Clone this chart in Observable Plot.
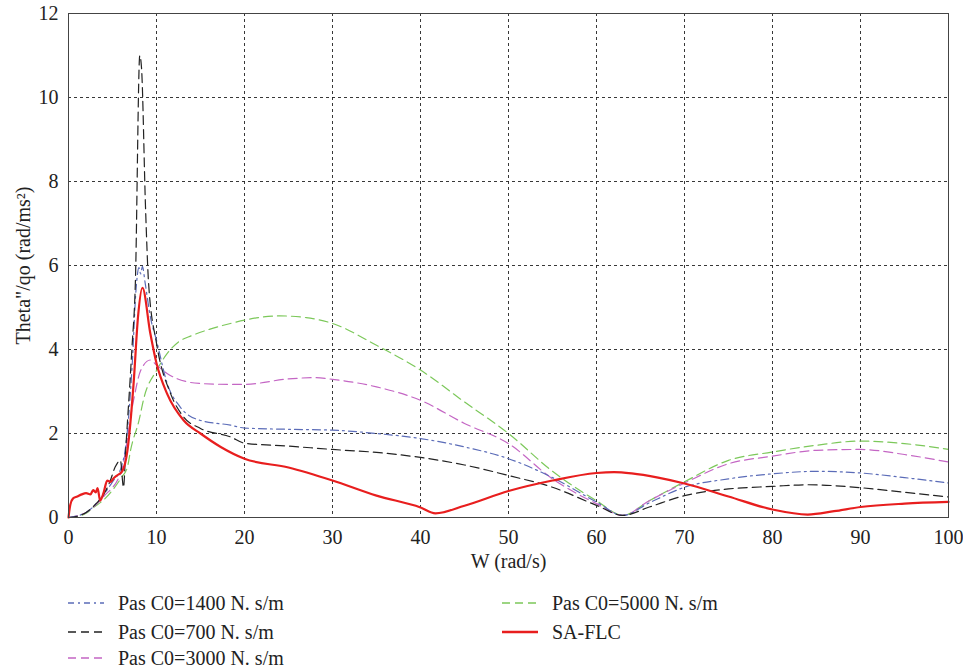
<!DOCTYPE html>
<html>
<head>
<meta charset="utf-8">
<script src="https://cdn.jsdelivr.net/npm/d3@7"></script>
<script src="https://cdn.jsdelivr.net/npm/@observablehq/plot@0.6"></script>
<style>
  html, body { margin: 0; padding: 0; background: #fff; }
  #wrap { position: relative; width: 963px; height: 669px; font-family: 'Liberation Serif', 'Times New Roman', 'DejaVu Serif', serif; }
  #wrap svg text { font-family: 'Liberation Serif', 'Times New Roman', 'DejaVu Serif', serif; }
  .leg { position: absolute; display: flex; align-items: center; font-size: 20px; color: #222; white-space: nowrap; }
  .leg svg { margin-right: 14px; }
</style>
</head>
<body>
<div id="wrap"></div>
<script>
// ---- data ----
const xTicks = [0, 10, 20, 30, 40, 50, 60, 70, 80, 90, 100];
const yTicks = [0, 2, 4, 6, 8, 10, 12];

const seriesNames = ["Pas C0=1400 N. s/m", "Pas C0=700 N. s/m", "Pas C0=3000 N. s/m", "Pas C0=5000 N. s/m", "SA-FLC"];

const pas1400W = [0, 2, 4, 5, 6, 6.5, 7.2, 7.7, 8.0, 8.2, 8.4, 8.7, 9.3, 10, 11.2, 12.7, 15, 18.4, 20, 25, 30, 35, 40, 45, 50, 55, 60, 63, 66, 70, 75, 80, 85, 90, 95, 100];
const pas1400Y = [0, 0.12, 0.55, 0.85, 1.2, 1.7, 3.5, 5.5, 5.95, 5.8, 5.98, 5.6, 4.78, 4.22, 3.2, 2.63, 2.31, 2.2, 2.13, 2.1, 2.08, 2.0, 1.88, 1.68, 1.4, 0.95, 0.37, 0.05, 0.35, 0.72, 0.92, 1.04, 1.1, 1.06, 0.95, 0.82];

const pas700W = [0, 1, 2, 3, 4, 4.7, 5.3, 5.9, 6.25, 6.5, 7.2, 7.6, 8.1, 8.3, 8.75, 9.1, 10, 11.6, 13.1, 15, 18.4, 20, 25, 30, 35, 40, 45, 50, 55, 60, 63, 66, 70, 75, 80, 84, 90, 95, 100];
const pas700Y = [0, 0.03, 0.12, 0.3, 0.55, 0.85, 1.2, 1.36, 0.72, 1.6, 4.0, 5.6, 11.0, 10.7, 7.4, 5.58, 4.15, 2.95, 2.39, 2.12, 1.92, 1.77, 1.7, 1.62, 1.55, 1.43, 1.25, 1.0, 0.72, 0.29, 0.05, 0.25, 0.52, 0.68, 0.74, 0.78, 0.71, 0.6, 0.49];

const pas3000W = [0, 2, 4, 6, 7.4, 8.2, 9.3, 10, 11.2, 13.5, 15, 18.4, 20, 25, 28, 30, 35, 40, 45, 50, 55, 60, 63, 66, 70, 75, 80, 85, 90, 95, 100];
const pas3000Y = [0, 0.12, 0.5, 1.1, 2.8, 3.5, 3.75, 3.63, 3.43, 3.23, 3.19, 3.17, 3.17, 3.3, 3.33, 3.29, 3.11, 2.79, 2.24, 1.76, 0.92, 0.33, 0.05, 0.4, 0.82, 1.28, 1.46, 1.6, 1.62, 1.5, 1.32];

const pas5000W = [0, 1, 2, 2.9, 4, 4.8, 6, 6.7, 7.05, 8, 8.6, 10, 11.2, 12.5, 14, 16, 18.4, 20, 24, 27, 30, 35, 40, 45, 50, 55, 60, 63, 66, 70, 75, 80, 85, 90, 95, 100];
const pas5000Y = [0, 0.02, 0.1, 0.25, 0.42, 0.6, 0.95, 1.2, 1.6, 2.3, 2.87, 3.5, 3.9, 4.18, 4.33, 4.48, 4.62, 4.7, 4.8, 4.76, 4.62, 4.1, 3.51, 2.75, 2.0, 1.1, 0.4, 0.05, 0.4, 0.85, 1.36, 1.56, 1.72, 1.82, 1.76, 1.62];

const saflcW = [0, 0.2, 0.5, 1, 1.5, 2, 2.5, 2.8, 3.1, 3.3, 3.6, 4, 4.4, 4.8, 5.1, 5.5, 6.1, 6.7, 7.4, 7.9, 8.4, 9.3, 10, 11.2, 13.1, 15, 17.3, 20, 25, 30, 35, 40, 41.7, 45, 50, 55, 60, 62, 64, 67, 70, 75, 80, 84, 87, 90, 95, 100];
const saflcY = [0, 0.3, 0.45, 0.5, 0.55, 0.58, 0.55, 0.65, 0.6, 0.7, 0.4, 0.6, 0.88, 0.85, 0.93, 1.0, 1.1, 1.6, 3.2, 4.78, 5.47, 4.38, 3.67, 2.95, 2.31, 2.0, 1.68, 1.4, 1.19, 0.88, 0.52, 0.24, 0.1, 0.28, 0.63, 0.88, 1.06, 1.08, 1.05, 0.95, 0.81, 0.5, 0.19, 0.07, 0.15, 0.25, 0.33, 0.37];

// ---- styles ----
const styles = [
  {stroke: "#5b6cb8", dash: "8,4,2,4", width: 1.2},
  {stroke: "#222222", dash: "9,5", width: 1.2},
  {stroke: "#c466c4", dash: "9,5", width: 1.2},
  {stroke: "#7cc85a", dash: "9,5", width: 1.2},
  {stroke: "#e81e1e", dash: null, width: 2.2}
];
const xs = [pas1400W, pas700W, pas3000W, pas5000W, saflcW];
const ys = [pas1400Y, pas700Y, pas3000Y, pas5000Y, saflcY];
const tables = xs.map((w, i) => w.map((x, j) => ({x, y: ys[i][j]})));

const lineMarks = tables.map((t, i) => Plot.line(t, {
  x: "x", y: "y",
  stroke: styles[i].stroke,
  strokeWidth: styles[i].width,
  strokeDasharray: styles[i].dash,
  curve: "monotone-x"
}));

const order = [3, 2, 0, 1, 4];
const serif = "'Liberation Serif', 'Times New Roman', 'DejaVu Serif', serif";

const chart = Plot.plot({
  width: 963,
  height: 583,
  marginLeft: 68,
  marginRight: 15,
  marginTop: 13,
  marginBottom: 66,
  style: {fontFamily: serif, fontSize: "19px", color: "#222", background: "#fff"},
  x: {domain: [0, 100]},
  y: {domain: [0, 12]},
  marks: [
    Plot.ruleX(xTicks, {stroke: "#222", strokeDasharray: "3,3", strokeWidth: 1, strokeOpacity: 0.9}),
    Plot.ruleY(yTicks, {stroke: "#222", strokeDasharray: "3,3", strokeWidth: 1, strokeOpacity: 0.9}),
    ...order.map(i => lineMarks[i]),
    Plot.frame({stroke: "#444", strokeWidth: 1}),
    Plot.axisX(xTicks, {tickSize: 0, tickPadding: 12, label: "W (rad/s)", labelAnchor: "center", labelArrow: "none", labelOffset: 50, fontSize: 20, fontFamily: serif}),
    Plot.axisY(yTicks, {tickSize: 0, tickPadding: 10, label: "Theta\"/qo (rad/ms²)", labelAnchor: "center", labelArrow: "none", labelOffset: 53, fontSize: 20, fontFamily: serif})
  ]
});

const wrap = document.getElementById("wrap");
wrap.appendChild(chart);

// ---- legend ----
const legendPos = [
  {left: 68, top: 603}, {left: 68, top: 632}, {left: 68, top: 658},
  {left: 502, top: 603}, {left: 502, top: 632}
];
seriesNames.forEach((name, i) => {
  const s = styles[i];
  const d = document.createElement("div");
  d.className = "leg";
  d.style.left = legendPos[i].left + "px";
  d.style.top = (legendPos[i].top - 12) + "px";
  d.style.height = "24px";
  d.innerHTML = `<svg width="36" height="10"><line x1="0" y1="5" x2="36" y2="5" stroke="${s.stroke}" stroke-width="${i === 4 ? 2.5 : 1.5}" ${s.dash ? `stroke-dasharray="${i === 0 ? "6,4,2,4" : "8,5"}"` : ""}/></svg><span>${name}</span>`;
  wrap.appendChild(d);
});
</script>
</body>
</html>
